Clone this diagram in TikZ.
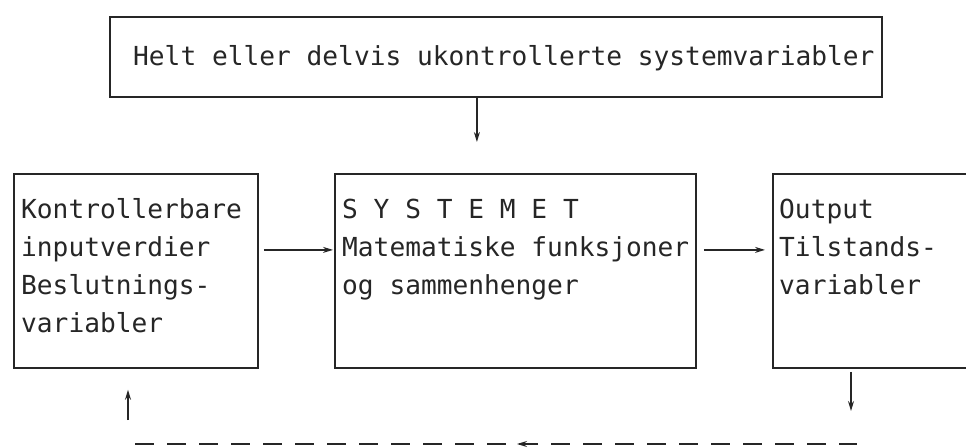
\documentclass[tikz,border=0pt]{standalone}
\usepackage{fontspec}
\newfontfamily\monofont{DejaVu Sans Mono}
\usetikzlibrary{arrows.meta}
\definecolor{ink}{gray}{0.15}
\tikzset{
  box/.style={draw=ink, line width=1.8pt, rectangle, inner sep=0pt},
  txt/.style={anchor=base west, inner sep=0pt, text=ink, font=\monofont\fontsize{26.2}{38}\selectfont},
  arr/.style={draw=ink, line width=1.3pt, -{Stealth[length=10pt,width=6pt]}},
  fb/.style={draw=ink, line width=1.6pt, dash pattern=on 19pt off 13pt}
}
\begin{document}
\begin{tikzpicture}[x=1pt,y=-1pt]
\clip (0,0) rectangle (966,447);
\fill[white] (0,0) rectangle (966,447);
% boxes
\node[box, anchor=north west, minimum width=772pt, minimum height=80pt] (top) at (109,16) {};
\node[box, anchor=north west, minimum width=244pt, minimum height=194pt] (lbox) at (13,173) {};
\node[box, anchor=north west, minimum width=361pt, minimum height=194pt] (sys) at (334,173) {};
\node[box, anchor=north west, minimum width=240pt, minimum height=194pt] (out) at (772,173) {};
% texts
\node[txt] (ttop) at (133,65) {Helt eller delvis ukontrollerte systemvariabler};
\foreach \t [count=\i] in {Kontrollerbare,inputverdier,Beslutnings-,variabler}
  \node[txt] (lt\i) at (21,{218+38*(\i-1)}) {\t};
\foreach \t [count=\i] in {S Y S T E M E T,Matematiske funksjoner,og sammenhenger}
  \node[txt] (st\i) at (342,{218+38*(\i-1)}) {\t};
\foreach \t [count=\i] in {Output,Tilstands-,variabler}
  \node[txt] (ot\i) at (779,{218+38*(\i-1)}) {\t};
% connectors
\draw[arr, shorten >=31pt] ([xshift=-19pt]top.south) -- ([xshift=-19pt]top.south |- sys.north);
\draw[arr, shorten <=5pt, shorten >=1pt] ([yshift=21pt]lbox.east) -- ([yshift=21pt]sys.west);
\draw[arr, shorten <=7pt, shorten >=7pt] ([yshift=21pt]sys.east) -- ([yshift=21pt]sys.east -| out.west);
% feedback
\coordinate (dtip) at (851,411);
\coordinate (ubase) at (128,420);
\coordinate (fbL) at (135,444);
\coordinate (fbR) at (857,444);
\coordinate (fbA) at (538,444);
\coordinate (fbB) at (517,444);
\draw[arr, shorten <=3pt] (dtip |- out.south) -- (dtip);
\draw[arr, shorten >=21pt] (ubase) -- (ubase |- lbox.south);
\draw[fb] (fbL) -- (fbR);
\draw[arr] (fbA) -- (fbB);
\end{tikzpicture}
\end{document}
